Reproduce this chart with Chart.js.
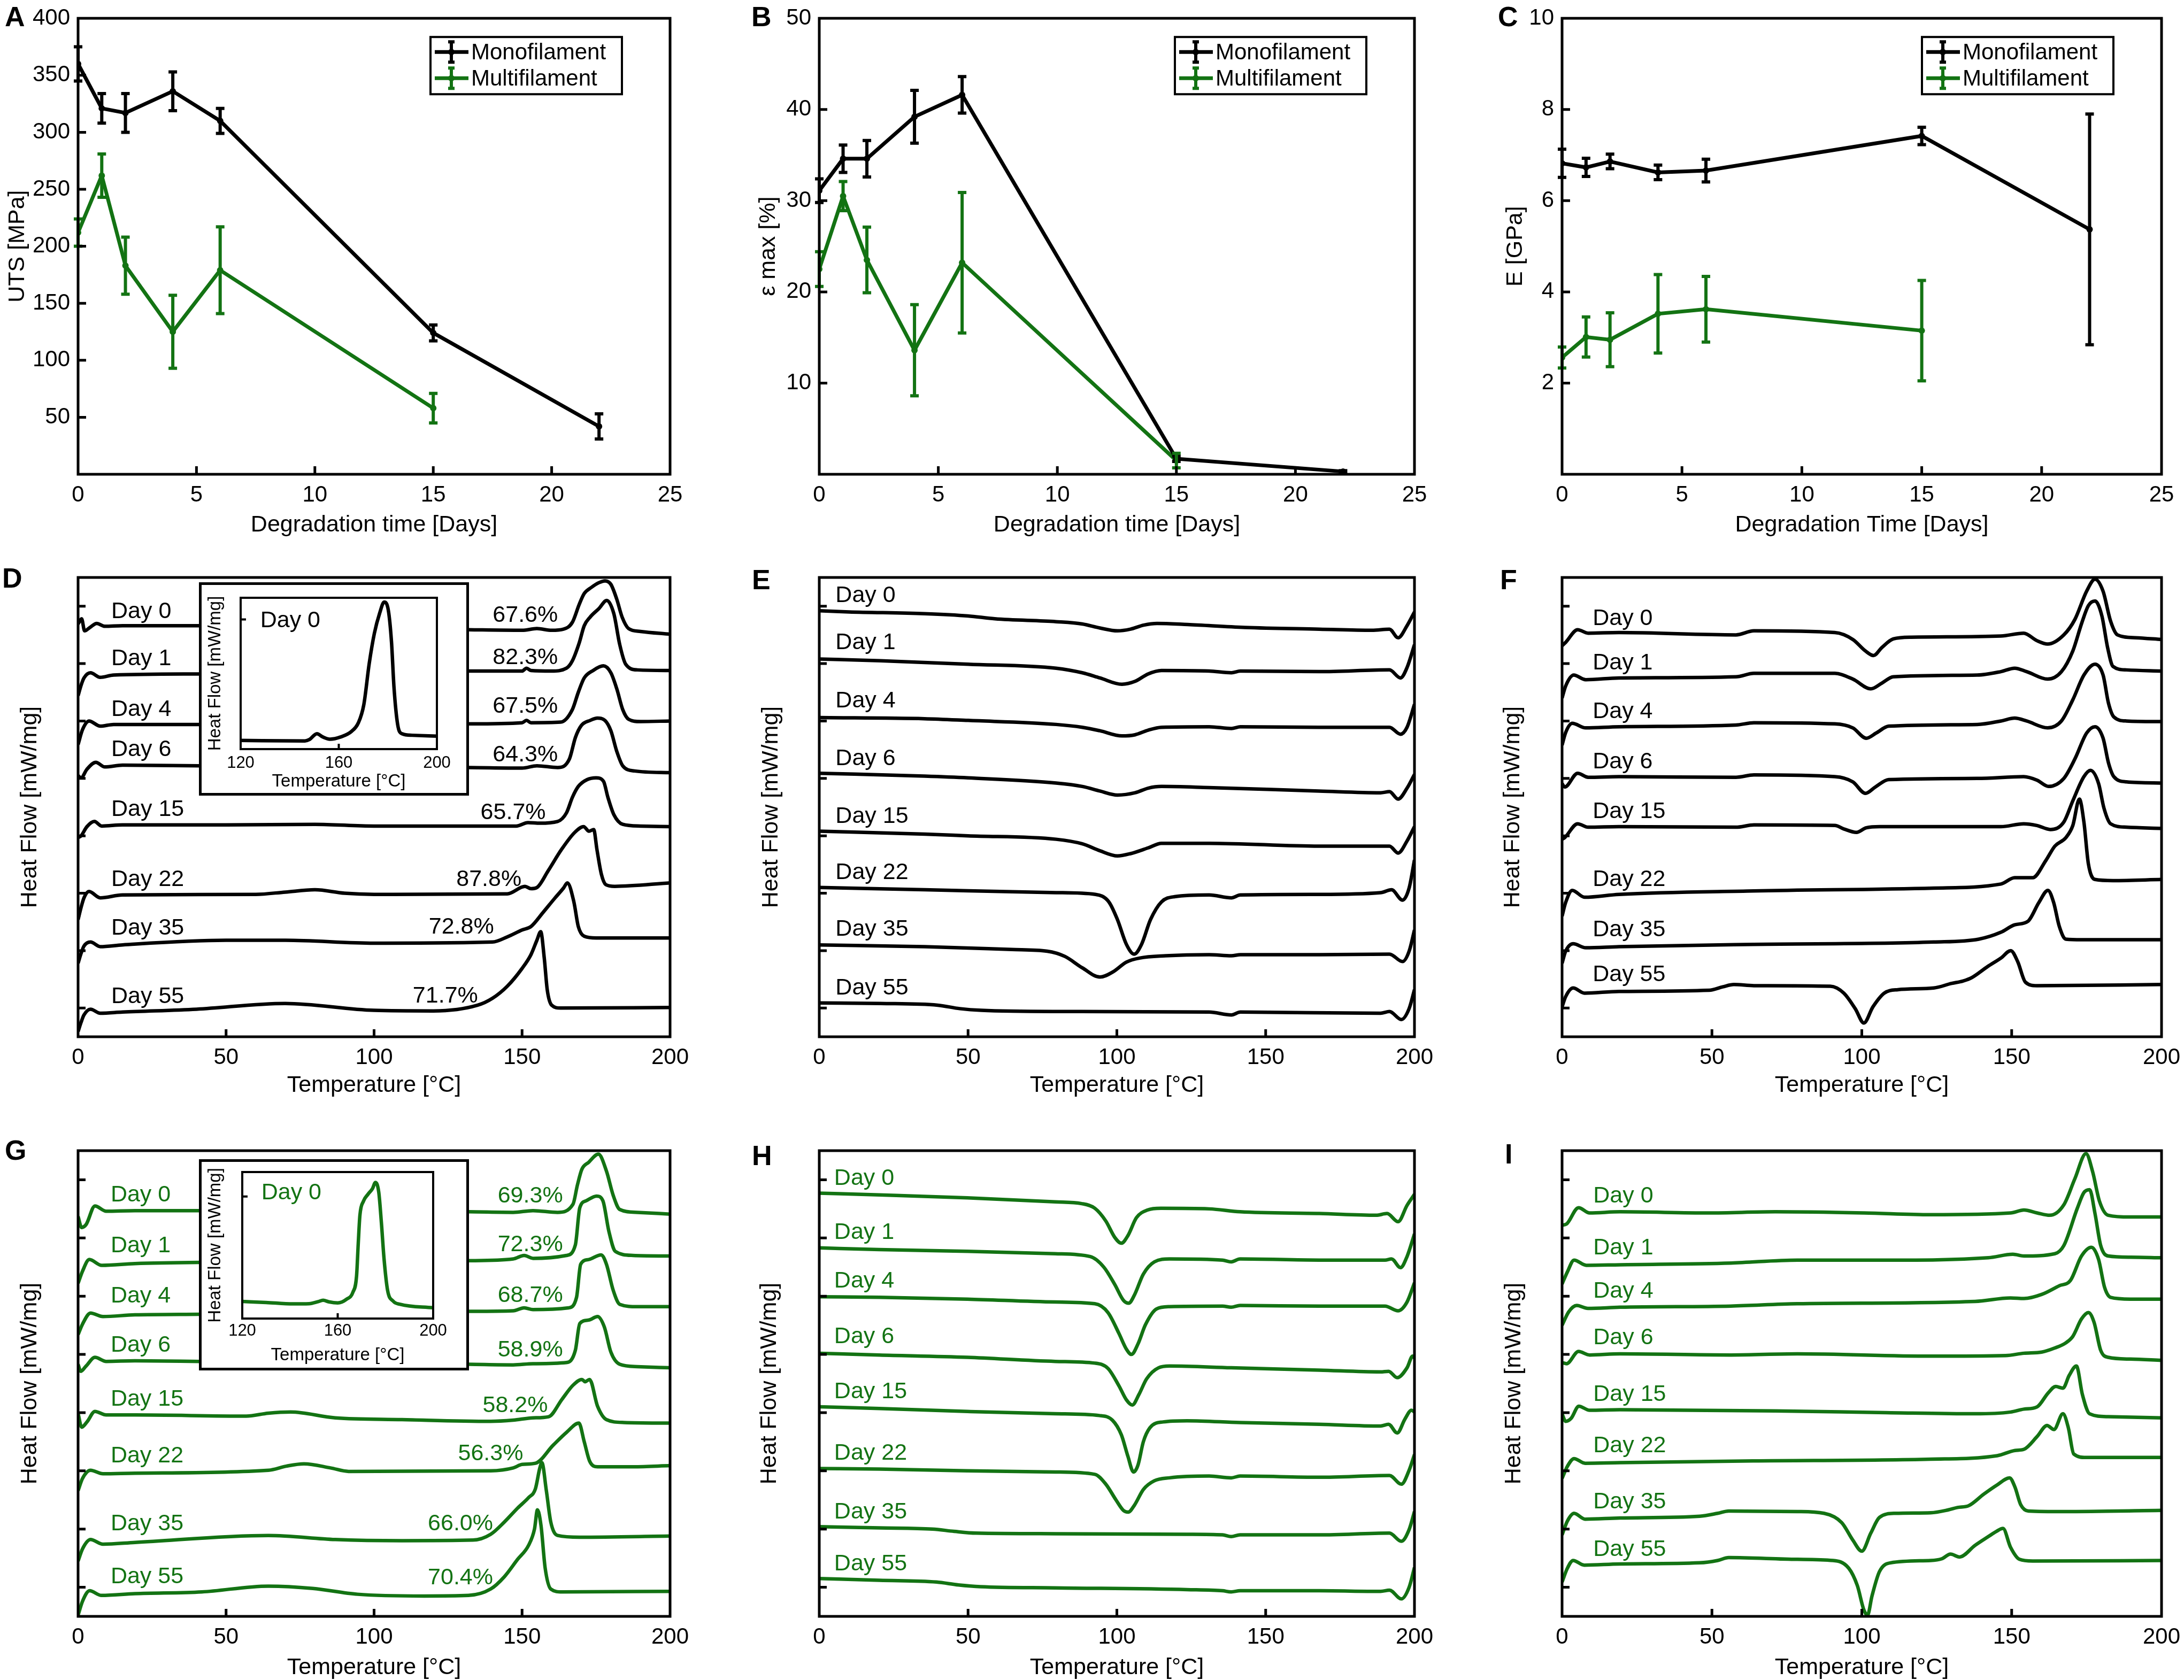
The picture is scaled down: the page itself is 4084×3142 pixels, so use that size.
<!DOCTYPE html>
<html>
<head>
<meta charset="utf-8">
<script src="https://cdn.jsdelivr.net/npm/chart.js@4.4.1/dist/chart.umd.min.js"></script>
<style>
html, body { margin: 0; padding: 0; background: #fff; }
body { width: 4084px; height: 3142px; position: relative; overflow: hidden; font-family: 'Liberation Sans', Arial, Helvetica, sans-serif; }
canvas { position: absolute; }
.tag { position: absolute; font-weight: bold; font-size: 52px; line-height: 1; color: #000; }
</style>
</head>
<body>
<div class="tag" style="left:9px;top:5px">A</div>
<div class="tag" style="left:1405px;top:5px">B</div>
<div class="tag" style="left:2801px;top:5px">C</div>
<div class="tag" style="left:4px;top:1055px">D</div>
<div class="tag" style="left:1406px;top:1058px">E</div>
<div class="tag" style="left:2805px;top:1058px">F</div>
<div class="tag" style="left:9px;top:2125px">G</div>
<div class="tag" style="left:1406px;top:2135px">H</div>
<div class="tag" style="left:2814px;top:2132px">I</div>
<script>
// ---- mechanical tests (A-C) ----
var days = [0, 1, 2, 4, 6, 15, 22];
var daysMulti = [0, 1, 2, 4, 6, 15];
var utsMono = [360, 321, 317, 336, 310, 124, 42];
var utsMonoErr = [15, 13, 17, 17, 11, 7, 11];
var utsMulti = [212, 262, 183, 125, 179, 58];
var utsMultiErr = [12, 19, 25, 32, 38, 13];
var strainMono = [31.1, 34.6, 34.6, 39.2, 41.6, 1.7, 0.3];
var strainMonoErr = [1.3, 1.5, 2.0, 2.9, 2.0, 0.3, 0.1];
var strainMulti = [22.5, 30.5, 23.5, 13.6, 23.2, 1.5];
var strainMultiErr = [1.9, 1.6, 3.6, 5.0, 7.7, 0.8];
var modMono = [6.82, 6.73, 6.86, 6.62, 6.66, 7.42, 5.37];
var modMonoErr = [0.31, 0.2, 0.16, 0.16, 0.25, 0.19, 2.53];
var modMulti = [2.56, 3.01, 2.95, 3.52, 3.62, 3.15];
var modMultiErr = [0.23, 0.44, 0.59, 0.86, 0.72, 1.1];

// ---- DSC curves, [temperature, heat flow (stacked, a.u.)] ----
var dayLabels = ['Day 0', 'Day 1', 'Day 4', 'Day 6', 'Day 15', 'Day 22', 'Day 35', 'Day 55'];
var crystD = ['67.6%', '82.3%', '67.5%', '64.3%', '65.7%', '87.8%', '72.8%', '71.7%'];
var crystG = ['69.3%', '72.3%', '68.7%', '58.9%', '58.2%', '56.3%', '66.0%', '70.4%'];
var dscTicks = [0.5, 1.5, 2.5, 3.5, 4.5, 5.5, 6.5, 7.5];

var D0 = [[0,7.19],[1.2,7.28],[2.2,7.07],[4,7.13],[6.3,7.20],[9,7.15],[15,7.16],[41,7.16],[132,7.09],[150,7.08],[155,7.11],[160,7.08],[164,7.10],[167,7.22],[169.3,7.53],[171,7.72],[173.5,7.83],[176,7.91],[178,7.94],[180,7.88],[182,7.62],[183.8,7.31],[186,7.11],[190,7.06],[200,7.01]];
var D1 = [[0,5.94],[1,6.12],[2,6.25],[4.2,6.34],[7.5,6.26],[12,6.30],[41,6.32],[132,6.37],[150,6.37],[151.5,6.42],[153,6.38],[160,6.37],[165,6.42],[167,6.55],[169.3,6.86],[171,7.16],[173,7.31],[176,7.46],[178.6,7.60],[181,7.37],[183,6.83],[185,6.49],[189,6.39],[200,6.38]];
var D4 = [[0,5.09],[1.5,5.35],[3.7,5.50],[7.5,5.41],[12,5.44],[41,5.44],[132,5.45],[150,5.47],[151.5,5.51],[153,5.47],[163,5.48],[167,5.70],[169,6.00],[171,6.25],[174,6.38],[177.5,6.46],[180,6.34],[182,6.06],[184,5.70],[186,5.53],[190,5.49],[200,5.50]];
var D6 = [[0,4.55],[1,4.51],[3,4.66],[6,4.78],[9,4.70],[15,4.73],[41,4.72],[132,4.69],[150,4.68],[155,4.72],[162,4.69],[166,4.84],[168,5.21],[170,5.42],[173,5.51],[175.5,5.55],[178,5.51],[180,5.33],[182,4.97],[184,4.72],[188,4.63],[200,4.60]];
var D15 = [[0,3.47],[1,3.50],[3,3.66],[5.5,3.75],[8,3.67],[15,3.69],[50,3.69],[80,3.70],[100,3.67],[120,3.67],[148,3.67],[152,3.73],[156,3.72],[162,3.75],[165,3.90],[167,4.17],[169,4.36],[172,4.48],[175,4.51],[177.5,4.45],[179,4.17],[181,3.87],[184,3.70],[190,3.67],[200,3.66]];
var D22 = [[0,2.04],[1,2.25],[2,2.42],[3.7,2.53],[7.5,2.42],[15,2.47],[60,2.48],[70,2.52],[80,2.56],[90,2.50],[100,2.48],[145,2.49],[151,2.62],[153,2.58],[155,2.60],[158.8,2.89],[163.3,3.26],[167.8,3.56],[170.8,3.66],[172.6,3.58],[174.2,3.61],[175.3,3.26],[176.8,2.83],[178.3,2.65],[181.3,2.62],[200,2.68]];
var D35 = [[0,1.28],[1,1.45],[2,1.58],[4.2,1.65],[7.5,1.57],[15,1.60],[50,1.68],[70,1.68],[100,1.63],[140,1.65],[145,1.74],[150,1.86],[153,1.92],[157,2.16],[161,2.41],[164,2.59],[165.3,2.68],[167.5,2.35],[169,1.92],[171,1.75],[175,1.72],[200,1.72]];
var D55 = [[0,0.09],[1,0.25],[2,0.38],[4.2,0.48],[7.5,0.41],[15,0.43],[40,0.48],[70,0.58],[100,0.46],[120,0.45],[135,0.55],[140,0.67],[145,0.88],[150,1.19],[153,1.43],[155,1.68],[156.3,1.83],[157.5,1.37],[158.5,0.82],[160,0.55],[163,0.50],[200,0.51]];

var E0 = [[0,7.42],[10,7.40],[35.4,7.37],[50,7.33],[59,7.28],[79.6,7.23],[88.4,7.19],[94.3,7.12],[100.2,7.07],[104.6,7.10],[109,7.17],[113.5,7.20],[123.8,7.18],[143,7.13],[168,7.10],[185.7,7.08],[191.6,7.10],[194.5,6.95],[197.5,7.16],[200,7.40]];
var E1 = [[0,6.58],[20.6,6.55],[50,6.49],[79.6,6.42],[88.4,6.34],[94.3,6.25],[101.7,6.14],[106.1,6.19],[110.5,6.32],[115,6.38],[131,6.37],[138.5,6.34],[141.5,6.37],[168,6.36],[191.6,6.39],[195.3,6.25],[197.5,6.43],[200,6.83]];
var E4 = [[0,5.56],[35.4,5.54],[50,5.51],[79.6,5.44],[88.4,5.39],[94.3,5.33],[101.7,5.24],[106.1,5.26],[110.5,5.34],[115,5.39],[131,5.40],[138.5,5.37],[141.5,5.40],[168,5.39],[191.6,5.39],[195.3,5.27],[197.5,5.39],[200,5.79]];
var E6 = [[0,4.59],[35.4,4.54],[50,4.51],[79.6,4.42],[88.4,4.36],[94.3,4.28],[100.2,4.21],[106.1,4.25],[110.5,4.33],[115,4.36],[131,4.34],[168,4.28],[188.6,4.25],[191.6,4.27],[194.5,4.14],[197.5,4.33],[200,4.57]];
var E15 = [[0,3.58],[35.4,3.53],[50,3.50],[79.6,3.44],[88.4,3.36],[94.3,3.24],[100.2,3.15],[104.6,3.19],[110.5,3.29],[115,3.37],[131,3.37],[168,3.32],[191.6,3.32],[194.5,3.20],[197.5,3.41],[200,3.66]];
var E22 = [[0,2.60],[35.4,2.56],[79.6,2.51],[92.8,2.48],[97.3,2.35],[100.2,2.04],[103.2,1.61],[105.8,1.44],[108.3,1.61],[111.3,2.04],[115,2.35],[119.4,2.44],[131,2.47],[138.5,2.42],[141.5,2.47],[168,2.48],[188.6,2.51],[192.3,2.56],[196,2.38],[198.2,2.59],[200,3.08]];
var E35 = [[0,1.60],[35.4,1.57],[64.8,1.52],[76.6,1.49],[82.5,1.40],[88.4,1.20],[94.3,1.04],[98.7,1.13],[103.2,1.30],[107.6,1.37],[116.4,1.41],[131,1.43],[138.5,1.41],[141.5,1.43],[168,1.43],[191.6,1.44],[196,1.31],[198.2,1.49],[200,1.86]];
var E55 = [[0,0.59],[20.6,0.58],[39.8,0.55],[47.2,0.49],[54.5,0.46],[79.6,0.44],[131,0.43],[138.5,0.38],[141.5,0.43],[188.6,0.41],[191.6,0.44],[195.6,0.30],[198.2,0.49],[200,0.82]];

var F0 = [[0,6.81],[1.2,6.87],[5.2,7.09],[8.7,7.03],[19,7.04],[58,7.00],[64,7.07],[91,7.04],[97,6.92],[101.2,6.72],[103.9,6.64],[106.7,6.78],[110.5,6.93],[116.5,6.96],[146.4,6.98],[154,7.03],[158.4,6.90],[162,6.84],[167.4,7.00],[171.1,7.27],[175,7.76],[177.8,7.97],[180.5,7.76],[183,7.24],[185.3,7.00],[191.3,6.95],[200,6.92]];
var F1 = [[0,5.90],[1.2,6.11],[3.9,6.30],[7.9,6.22],[19,6.25],[58,6.27],[64,6.33],[91,6.33],[97,6.23],[103,6.06],[106.7,6.16],[110.5,6.27],[138.5,6.30],[146.4,6.36],[151,6.42],[155,6.36],[162,6.23],[166.6,6.36],[170.4,6.72],[173.4,7.21],[175.6,7.51],[177.8,7.59],[180.1,7.33],[182,6.78],[183.8,6.45],[188.3,6.39],[200,6.37]];
var F4 = [[0,5.08],[1.2,5.30],[3.4,5.46],[7.9,5.38],[19,5.40],[58,5.43],[64,5.47],[91,5.45],[97,5.38],[101.5,5.20],[104.8,5.29],[109,5.41],[138.5,5.44],[146.4,5.50],[151,5.55],[155,5.50],[162,5.38],[166.6,5.50],[170.4,5.87],[174.1,6.30],[177.8,6.49],[180.5,6.30],[182.3,5.81],[184.1,5.57],[188.3,5.50],[200,5.49]];
var F6 = [[0,4.41],[0.9,4.35],[5.2,4.59],[8.7,4.52],[19,4.53],[58,4.52],[64,4.56],[91,4.53],[97,4.44],[101.2,4.24],[104.5,4.35],[109,4.48],[138.5,4.50],[154,4.53],[158.4,4.47],[162.3,4.36],[167.4,4.50],[171.1,4.84],[175,5.29],[177.8,5.40],[180.5,5.20],[182.3,4.77],[184.1,4.53],[188.3,4.44],[200,4.42]];
var F15 = [[0,3.44],[0.9,3.47],[5.2,3.71],[8.7,3.65],[19,3.66],[58,3.65],[64,3.69],[91,3.68],[94,3.62],[98.2,3.56],[101.5,3.64],[106,3.66],[146.4,3.66],[154,3.71],[158.4,3.68],[162.9,3.61],[167.4,3.74],[170.4,4.11],[174.1,4.53],[176.3,4.64],[179,4.41],[180.8,3.98],[183,3.71],[188.3,3.65],[200,3.63]];
var F22 = [[0,2.10],[1.2,2.34],[3.4,2.55],[7.5,2.43],[19,2.48],[64,2.54],[124,2.59],[146.4,2.66],[151,2.77],[157,2.77],[161.4,3.07],[164.4,3.32],[168.1,3.47],[170.4,3.68],[172.6,4.14],[174.1,3.74],[175.6,3.01],[177.8,2.74],[183.8,2.72],[200,2.74]];
var F35 = [[0,1.28],[1.2,1.49],[3.7,1.62],[7.9,1.55],[19,1.57],[64,1.61],[124,1.65],[139,1.70],[146.4,1.82],[151,1.95],[155.4,2.01],[159.1,2.34],[162.1,2.55],[164,2.34],[165.9,1.92],[168.1,1.70],[173.4,1.69],[200,1.69]];
var F55 = [[0,0.52],[1.2,0.70],[3.7,0.85],[7.5,0.76],[19,0.79],[49.1,0.81],[53.6,0.87],[57.3,0.91],[64,0.89],[89.5,0.88],[94,0.76],[97.8,0.49],[100.7,0.24],[103.7,0.52],[107.5,0.76],[112,0.82],[124,0.85],[130,0.93],[133.7,0.97],[136.7,1.03],[141.9,1.22],[146.4,1.37],[149.7,1.50],[152,1.31],[154.6,0.95],[158.4,0.89],[200,0.91]];

var G0 = [[0,6.87],[1.2,6.68],[2.7,6.73],[5.7,7.05],[9.5,6.96],[19.2,6.97],[41,6.97],[132,6.95],[147,6.94],[153.7,6.97],[162,6.94],[167.2,7.08],[168.7,7.41],[170.2,7.68],[172.5,7.80],[175.8,7.94],[178.5,7.65],[180.8,7.23],[183,6.99],[189,6.94],[200,6.91]];
var G1 = [[0,5.72],[1.5,5.93],[3.8,6.13],[8,6.03],[19.2,6.06],[41,6.08],[132,6.11],[147,6.14],[150.7,6.20],[153.7,6.15],[165,6.20],[168,6.38],[169.5,7.02],[171.7,7.14],[175.2,7.22],[177.3,7.14],[179.3,6.62],[181.5,6.27],[187.5,6.20],[200,6.19]];
var G4 = [[0,4.84],[1.5,5.02],[4.2,5.21],[8.4,5.15],[19.2,5.18],[41,5.19],[132,5.24],[147,5.25],[150.7,5.30],[153.7,5.27],[165.7,5.30],[168.4,5.48],[169.8,6.05],[172.5,6.13],[176.7,6.21],[178.5,6.05],[180.8,5.60],[183,5.36],[189,5.32],[200,5.32]];
var G6 = [[0,4.33],[0.9,4.21],[2.7,4.30],[5.7,4.45],[9.5,4.38],[19.2,4.39],[41,4.38],[132,4.33],[147,4.32],[153.7,4.34],[165,4.36],[168,4.57],[169.5,5.03],[172.5,5.09],[175.5,5.15],[177.8,4.97],[180,4.54],[183,4.33],[189,4.29],[200,4.27]];
var G15 = [[0,3.49],[1.2,3.25],[3,3.34],[5.7,3.52],[9.5,3.46],[19.2,3.46],[56.8,3.44],[64.3,3.49],[71.8,3.51],[86.9,3.41],[109.4,3.38],[139.4,3.35],[147,3.37],[153.7,3.41],[159,3.43],[163.5,3.73],[167.2,3.97],[170.2,4.07],[171.3,4.03],[172.8,4.07],[175.5,3.61],[178.5,3.38],[184.5,3.33],[200,3.32]];
var G22 = [[0,2.16],[1.5,2.37],[4.2,2.51],[8.4,2.45],[19.2,2.46],[64.3,2.51],[70.3,2.58],[76.3,2.62],[85.3,2.55],[91.4,2.49],[139.4,2.50],[147,2.55],[150,2.61],[154.5,2.63],[160.5,2.94],[165,3.16],[169.2,3.32],[171,3.00],[172.8,2.67],[175.5,2.57],[187.5,2.57],[200,2.59]];
var G35 = [[0,0.95],[1.5,1.16],[4.2,1.32],[8.4,1.24],[19.2,1.27],[64.3,1.39],[86.9,1.32],[109.4,1.30],[133.4,1.31],[139.4,1.41],[144,1.62],[148.5,1.86],[152.2,2.04],[154.5,2.19],[156,2.55],[156.7,2.64],[158.2,2.16],[159.7,1.62],[162,1.39],[169.5,1.36],[200,1.38]];
var G55 = [[0,0.02],[1.5,0.26],[3.9,0.44],[7.9,0.36],[19.2,0.39],[41.8,0.42],[64.3,0.52],[79.3,0.48],[94.4,0.38],[116.9,0.35],[131.9,0.36],[139.4,0.47],[144,0.68],[148.5,0.98],[152.2,1.22],[154.2,1.50],[155.2,1.83],[156.4,1.56],[157.8,0.83],[159.7,0.47],[163.5,0.42],[200,0.43]];

var H0 = [[0,7.27],[20.2,7.24],[49.8,7.19],[79.3,7.12],[88.2,7.09],[92.6,7.01],[96.3,6.79],[99.3,6.51],[101.5,6.41],[103.7,6.54],[106.6,6.85],[110.3,6.98],[114.8,7.01],[131,7.00],[141.4,6.95],[168,6.92],[187.1,6.89],[190.8,6.92],[194.5,6.78],[197.5,7.06],[200,7.25]];
var H1 = [[0,6.33],[20.2,6.30],[49.8,6.27],[79.3,6.23],[91.1,6.18],[95.6,6.00],[99.3,5.70],[102.2,5.43],[104,5.38],[105.9,5.52],[108.9,5.88],[112.6,6.09],[117.7,6.14],[135.5,6.12],[138.4,6.09],[141.4,6.14],[168,6.12],[190.1,6.12],[192.3,6.14],[195.3,5.99],[197.5,6.18],[200,6.57]];
var H4 = [[0,5.49],[20.2,5.48],[49.8,5.45],[79.3,5.40],[92.6,5.37],[97,5.22],[100.7,4.86],[103.2,4.59],[104.9,4.50],[107.1,4.68],[109.6,5.01],[113.3,5.28],[117.7,5.32],[135.5,5.33],[138.4,5.31],[141.4,5.34],[168,5.33],[190.1,5.33],[194.5,5.25],[197.5,5.40],[200,5.73]];
var H6 = [[0,4.52],[20.2,4.49],[49.8,4.45],[79.3,4.38],[92.6,4.35],[97,4.26],[100.7,3.96],[103.2,3.72],[105.2,3.63],[107.4,3.81],[110,4.08],[114,4.27],[117.7,4.30],[138.4,4.27],[168,4.23],[188.6,4.20],[191.3,4.21],[194.2,4.10],[197.5,4.27],[199.4,4.47],[200,4.44]];
var H15 = [[0,3.60],[20.2,3.57],[49.8,3.52],[79.3,3.48],[94.1,3.45],[98.5,3.37],[101.5,3.12],[103.7,2.75],[105.6,2.48],[107.1,2.60],[108.9,3.00],[111.1,3.24],[115.5,3.34],[123.6,3.36],[141.4,3.33],[168,3.30],[188.6,3.27],[191.3,3.30],[194.2,3.15],[196.8,3.39],[199,3.54],[200,3.51]];
var H22 = [[0,2.54],[20.2,2.53],[49.8,2.50],[79.3,2.48],[92.6,2.44],[96.3,2.27],[99.7,2.00],[102.2,1.82],[103.8,1.79],[105.9,1.91],[108.9,2.18],[112.6,2.33],[117.7,2.38],[131,2.41],[138.4,2.38],[141.4,2.41],[168,2.39],[191.6,2.42],[195.6,2.27],[198.2,2.51],[200,2.78]];
var H35 = [[0,1.54],[20.2,1.52],[38,1.50],[45.3,1.46],[52.7,1.43],[79.3,1.42],[123.6,1.41],[135.5,1.40],[138.4,1.37],[141.4,1.40],[168,1.40],[191.6,1.43],[195.6,1.29],[198.2,1.49],[200,1.80]];
var H55 = [[0,0.65],[20.2,0.62],[39.4,0.59],[46.8,0.54],[54.2,0.51],[79.3,0.49],[123.6,0.46],[135.5,0.44],[138.4,0.42],[141.4,0.44],[168,0.44],[188.6,0.43],[191.6,0.45],[195.6,0.30],[198.2,0.50],[200,0.84]];

var I0 = [[0,6.72],[1.5,6.74],[5.5,7.02],[9.2,6.93],[19.3,6.95],[48.9,6.93],[71.1,6.95],[100.7,6.93],[123,6.90],[149.6,6.93],[154.1,6.98],[158.5,6.93],[162.7,6.89],[167.4,7.07],[171.1,7.52],[174.8,7.95],[177,7.64],[179.3,7.13],[182.2,6.89],[189.6,6.86],[200,6.86]];
var I1 = [[0,5.71],[1.8,5.92],[4,6.12],[8.1,6.03],[19.3,6.04],[56.3,6.07],[78.5,6.12],[108.1,6.12],[142.2,6.16],[150.4,6.22],[154.1,6.19],[164.4,6.23],[167.4,6.37],[171.9,7.01],[174.1,7.28],[176,7.33],[177.8,6.92],[179.7,6.37],[182.2,6.19],[189.6,6.17],[200,6.16]];
var I4 = [[0,5.00],[2.2,5.23],[4.9,5.34],[8.6,5.29],[19.3,5.31],[56.3,5.33],[78.5,5.37],[137.8,5.41],[149.6,5.47],[154.1,5.46],[160,5.53],[165.9,5.68],[169.6,5.77],[173.3,6.19],[176.6,6.34],[179,6.13],[181,5.65],[183,5.48],[189.6,5.45],[200,5.45]];
var I6 = [[0,4.36],[1.5,4.34],[5.5,4.55],[9.2,4.49],[19.3,4.51],[56.3,4.49],[78.5,4.51],[123,4.47],[148,4.48],[154.1,4.52],[160,4.54],[164.4,4.61],[168.1,4.70],[170.4,4.81],[173.3,5.11],[175.6,5.22],[177.5,5.05],[179.7,4.57],[182.2,4.45],[189.6,4.42],[200,4.40]];
var I15 = [[0,3.48],[1.2,3.35],[3,3.40],[5.6,3.61],[9.2,3.54],[19.3,3.55],[71.1,3.53],[108.1,3.50],[137.8,3.48],[149.6,3.51],[154.1,3.56],[158.5,3.60],[162.2,3.84],[164.7,3.95],[167.1,3.92],[169.2,4.14],[171.6,4.30],[173.6,3.81],[176,3.48],[182.2,3.43],[200,3.41]];
var I22 = [[0,2.37],[1.8,2.58],[4,2.71],[7.7,2.63],[19.3,2.64],[63.7,2.67],[123,2.70],[145.2,2.76],[151.1,2.85],[154.1,2.87],[158.5,3.09],[161.8,3.28],[164.1,3.21],[167.1,3.48],[168.9,3.24],[170.7,2.79],[174.8,2.73],[200,2.73]];
var I35 = [[0,1.40],[1.8,1.64],[4,1.77],[7.7,1.67],[19.3,1.69],[45.9,1.72],[51.9,1.77],[55.6,1.81],[78.5,1.80],[87.4,1.77],[93.3,1.61],[97,1.31],[100,1.12],[103,1.43],[105.9,1.70],[111.1,1.77],[123,1.78],[128.9,1.83],[131.9,1.87],[135.6,1.90],[140.7,2.10],[145.2,2.26],[149.3,2.38],[151.1,2.22],[153,1.92],[155.6,1.81],[167.4,1.80],[200,1.82]];
var I55 = [[0,0.59],[1.8,0.83],[3.7,0.96],[7.4,0.88],[19.3,0.90],[45.9,0.92],[51.9,0.96],[55.6,1.01],[78.5,0.98],[90.4,0.96],[95.6,0.83],[98.5,0.53],[100.7,0.11],[101.9,0.02],[103.4,0.35],[105.9,0.77],[109.6,0.92],[123,0.96],[126.7,0.99],[129.6,1.07],[132.6,1.02],[137.8,1.22],[142.2,1.37],[144.9,1.46],[147.1,1.51],[149.6,1.19],[152.6,0.98],[157,0.95],[200,0.96]];

// insets (Day 0 melting region)
var insetD = [[120,0.40],[146.2,0.38],[148,0.44],[151.1,0.71],[153.5,0.56],[156.4,0.46],[160.7,0.56],[165.1,0.81],[168,1.22],[170.2,2.05],[172.4,3.95],[174.5,5.35],[176.7,6.30],[178.5,6.80],[180.2,6.42],[181.5,4.94],[182.5,2.87],[184,1.14],[185.8,0.71],[189.8,0.64],[200,0.60]];
var insetG = [[120,0.84],[130,0.79],[141.3,0.72],[148,0.73],[151.8,0.83],[153.9,0.90],[156.3,0.82],[160,0.77],[163.7,0.95],[166.4,1.30],[167.9,2.09],[168.6,3.67],[169.3,5.07],[170.8,5.77],[172.7,6.11],[174.6,6.39],[175.8,6.69],[177.2,6.21],[178.3,4.72],[179.4,2.96],[180.9,1.39],[183.2,0.86],[186.2,0.70],[200,0.53]];

var BLACK = '#000000';
var GREEN = '#137313';
var FONT = "'Liberation Sans', Arial, Helvetica, sans-serif";
Chart.defaults.font.family = FONT;
Chart.defaults.color = '#000';

function addCanvas(left, top, w, h, bg) {
  var c = document.createElement('canvas');
  c.width = w; c.height = h;
  c.style.left = left + 'px'; c.style.top = top + 'px';
  c.style.width = w + 'px'; c.style.height = h + 'px';
  if (bg) c.style.background = bg;
  document.body.appendChild(c);
  return c.getContext('2d');
}

// box round the plot area + inward ticks
function frame(len, lw) {
  return {
    id: 'frame',
    afterDraw: function (chart) {
      var ctx = chart.ctx, a = chart.chartArea;
      ctx.save();
      ctx.strokeStyle = '#000';
      ctx.lineWidth = lw;
      ctx.beginPath();
      [chart.scales.x, chart.scales.y].forEach(function (s) {
        s.ticks.forEach(function (t) {
          var p = s.getPixelForValue(t.value);
          if (s.isHorizontal()) {
            if (p > a.left + 4 && p < a.right - 4) { ctx.moveTo(p, a.bottom); ctx.lineTo(p, a.bottom - len); }
          } else if (p > a.top + 4 && p < a.bottom - 4) {
            ctx.moveTo(a.left, p); ctx.lineTo(a.left + len, p);
          }
        });
      });
      ctx.stroke();
      ctx.strokeRect(a.left, a.top, a.right - a.left, a.bottom - a.top);
      ctx.restore();
    }
  };
}

var errorBars = {
  id: 'errorBars',
  afterDatasetsDraw: function (chart) {
    var ctx = chart.ctx, ys = chart.scales.y;
    chart.data.datasets.forEach(function (ds, i) {
      var meta = chart.getDatasetMeta(i);
      ctx.save();
      ctx.strokeStyle = ds.borderColor;
      ctx.lineWidth = 6;
      meta.data.forEach(function (pt, j) {
        var v = ds.data[j].y, e = ds.errors[j];
        var y1 = ys.getPixelForValue(v + e), y2 = ys.getPixelForValue(v - e);
        ctx.beginPath();
        ctx.moveTo(pt.x, y1); ctx.lineTo(pt.x, y2);
        ctx.moveTo(pt.x - 8, y1); ctx.lineTo(pt.x + 8, y1);
        ctx.moveTo(pt.x - 8, y2); ctx.lineTo(pt.x + 8, y2);
        ctx.stroke();
      });
      ctx.restore();
    });
  }
};

var legendBox = {
  id: 'legendBox',
  afterDraw: function (chart) {
    var ctx = chart.ctx, a = chart.chartArea;
    var w = 358, h = 107, x0 = a.right - 90 - w, y0 = a.top + 35;
    ctx.save();
    ctx.fillStyle = '#fff'; ctx.fillRect(x0, y0, w, h);
    ctx.strokeStyle = '#000'; ctx.lineWidth = 4; ctx.strokeRect(x0, y0, w, h);
    chart.data.datasets.forEach(function (ds, k) {
      var cy = y0 + 28 + k * 49, cx = x0 + 39;
      ctx.strokeStyle = ds.borderColor; ctx.fillStyle = ds.borderColor;
      ctx.lineWidth = 7;
      ctx.beginPath(); ctx.moveTo(x0 + 8, cy); ctx.lineTo(x0 + 71, cy); ctx.stroke();
      ctx.lineWidth = 6;
      ctx.beginPath();
      ctx.moveTo(cx, cy - 19); ctx.lineTo(cx, cy + 19);
      ctx.moveTo(cx - 6, cy - 19); ctx.lineTo(cx + 6, cy - 19);
      ctx.moveTo(cx - 6, cy + 19); ctx.lineTo(cx + 6, cy + 19);
      ctx.stroke();
      ctx.beginPath(); ctx.arc(cx, cy, 6, 0, 2 * Math.PI); ctx.fill();
      ctx.fillStyle = '#000';
      ctx.font = '42px ' + FONT;
      ctx.textAlign = 'left'; ctx.textBaseline = 'middle';
      ctx.fillText(ds.label, x0 + 76, cy + 2);
    });
    ctx.restore();
  }
};

function notes(list, color, size) {
  return {
    id: 'notes',
    afterDatasetsDraw: function (chart) {
      var ctx = chart.ctx, xs = chart.scales.x, ys = chart.scales.y;
      ctx.save();
      ctx.fillStyle = color;
      ctx.font = size + 'px ' + FONT;
      ctx.textBaseline = 'middle';
      list.forEach(function (n) {
        ctx.textAlign = n.align || 'left';
        ctx.fillText(n.text, xs.getPixelForValue(n.x), ys.getPixelForValue(n.y));
      });
      ctx.restore();
    }
  };
}

var AW = 150, TP = 40, RP = 60, AH = 140;

function baseOptions() {
  return {
    animation: false, responsive: false, devicePixelRatio: 1, events: [],
    layout: { padding: { top: TP, right: RP, left: 0, bottom: 0 } },
    plugins: { legend: { display: false }, tooltip: { enabled: false } }
  };
}

function xAxis(min, max, step, title, titleOff) {
  return {
    type: 'linear', min: min, max: max,
    ticks: { stepSize: step, font: { size: 42 }, padding: 14, maxRotation: 0, autoSkip: false, color: '#000' },
    grid: { display: false, drawTicks: false }, border: { display: false },
    title: { display: true, text: title, font: { size: 43 }, color: '#000', padding: { top: 0, bottom: AH - titleOff - 25.8 } },
    afterFit: function (s) { s.height = AH; }
  };
}

function yAxis(min, max, title, titleOff, extra) {
  var y = {
    type: 'linear', min: min, max: max,
    grid: { display: false, drawTicks: false }, border: { display: false },
    title: { display: true, text: title, font: { size: 43 }, color: '#000', padding: { top: AW - titleOff - 25.8, bottom: 0 } },
    afterFit: function (s) { s.width = AW; }
  };
  for (var k in extra) y[k] = extra[k];
  return y;
}

function pts(xs, ys) { return xs.map(function (x, i) { return { x: x, y: ys[i] }; }); }

function mechChart(box, mono, monoErr, multi, multiErr, yMax, yStep, ytitle, ytitleOff, xtitle) {
  var ctx = addCanvas(box.l - AW, box.t - TP, AW + box.r - box.l + RP, TP + box.b - box.t + AH);
  var opt = baseOptions();
  opt.scales = {
    x: xAxis(0, 25, 5, xtitle, 95),
    y: yAxis(0, yMax, ytitle, ytitleOff, {
      ticks: { stepSize: yStep, font: { size: 42 }, padding: 15, color: '#000',
        callback: function (v) { return v === 0 ? '' : v; } }
    })
  };
  return new Chart(ctx, {
    type: 'line',
    data: {
      datasets: [
        { label: 'Monofilament', data: pts(days, mono), errors: monoErr, borderColor: BLACK, backgroundColor: BLACK,
          borderWidth: 7, pointRadius: 6, pointBackgroundColor: BLACK, pointBorderWidth: 0, tension: 0 },
        { label: 'Multifilament', data: pts(daysMulti, multi), errors: multiErr, borderColor: GREEN, backgroundColor: GREEN,
          borderWidth: 7, pointRadius: 6, pointBackgroundColor: GREEN, pointBorderWidth: 0, tension: 0 }
      ]
    },
    options: opt,
    plugins: [errorBars, frame(15, 5), legendBox]
  });
}

function dscChart(box, curves, color, noteList, ytitleOff, xtitleOff) {
  var ctx = addCanvas(box.l - AW, box.t - TP, AW + box.r - box.l + RP, TP + box.b - box.t + AH);
  var opt = baseOptions();
  opt.scales = {
    x: xAxis(0, 200, 50, 'Temperature [°C]', xtitleOff),
    y: yAxis(0, 8, 'Heat Flow [mW/mg]', ytitleOff, {
      ticks: { display: false },
      afterBuildTicks: function (s) { s.ticks = dscTicks.map(function (v) { return { value: v }; }); }
    })
  };
  return new Chart(ctx, {
    type: 'line',
    data: {
      datasets: curves.map(function (c) {
        return { data: c.map(function (p) { return { x: p[0], y: p[1] }; }), borderColor: color,
          borderWidth: 6.5, pointRadius: 0, cubicInterpolationMode: 'monotone', fill: false };
      })
    },
    options: opt,
    plugins: [frame(14, 5), notes(noteList, color, 43)]
  });
}

var outerFrame = {
  id: 'outerFrame',
  afterDraw: function (chart) {
    var ctx = chart.ctx;
    ctx.save(); ctx.strokeStyle = '#000'; ctx.lineWidth = 5;
    ctx.strokeRect(2.5, 2.5, chart.width - 5, chart.height - 5);
    ctx.restore();
  }
};

function insetChart(outer, inner, curve, color, yMax, lab, tickPad, titlePad) {
  var w = outer.r - outer.l, h = outer.b - outer.t;
  var aw = inner.l - outer.l, ah = outer.b - inner.b;
  var ctx = addCanvas(outer.l, outer.t, w, h, '#fff');
  return new Chart(ctx, {
    type: 'line',
    data: { datasets: [{ data: curve.map(function (p) { return { x: p[0], y: p[1] }; }), borderColor: color,
      borderWidth: 6.5, pointRadius: 0, cubicInterpolationMode: 'monotone', fill: false }] },
    options: {
      animation: false, responsive: false, devicePixelRatio: 1, events: [],
      layout: { padding: { top: inner.t - outer.t, right: outer.r - inner.r, left: 0, bottom: 0 } },
      plugins: { legend: { display: false }, tooltip: { enabled: false } },
      scales: {
        x: { type: 'linear', min: 120, max: 200,
          ticks: { stepSize: 40, font: { size: 31 }, padding: tickPad, maxRotation: 0, color: '#000' },
          grid: { display: false, drawTicks: false }, border: { display: false },
          title: { display: true, text: 'Temperature [°C]', font: { size: 33 }, color: '#000', padding: { top: 0, bottom: titlePad } },
          afterFit: function (s) { s.height = ah; } },
        y: { type: 'linear', min: 0, max: yMax,
          ticks: { display: false },
          afterBuildTicks: function (s) { s.ticks = [{ value: 6 }]; },
          grid: { display: false, drawTicks: false }, border: { display: false },
          title: { display: true, text: 'Heat Flow [mW/mg]', font: { size: 33 }, color: '#000', padding: { top: 11, bottom: 0 } },
          afterFit: function (s) { s.width = aw; } }
      }
    },
    plugins: [frame(10, 4), outerFrame, notes([lab], color, 43)]
  });
}

// ---- layout of the 3x3 grid (plot areas, page px) ----
var col = [{ l: 146, r: 1253 }, { l: 1532, r: 2645 }, { l: 2921, r: 4042 }];
var row = [{ t: 34, b: 887 }, { t: 1080, b: 1939 }, { t: 2152, b: 3023 }];
function cell(r, c) { return { l: col[c].l, r: col[c].r, t: row[r].t, b: row[r].b }; }

mechChart(cell(0, 0), utsMono, utsMonoErr, utsMulti, utsMultiErr, 400, 50, 'UTS [MPa]', 113, 'Degradation time [Days]');
mechChart(cell(0, 1), strainMono, strainMonoErr, strainMulti, strainMultiErr, 50, 10, 'ε max [%]', 95, 'Degradation time [Days]');
mechChart(cell(0, 2), modMono, modMonoErr, modMulti, modMultiErr, 10, 2, 'E [GPa]', 87, 'Degradation Time [Days]');

function dayNotes(x, ys) { return dayLabels.map(function (t, i) { return { x: x, y: ys[i], text: t }; }); }
function pctNotes(texts, pos) { return texts.map(function (t, i) { return { x: pos[i][0], y: pos[i][1], text: t, align: 'right' }; }); }

var notesD = dayNotes(11.2, [7.40, 6.58, 5.70, 5.00, 3.96, 2.74, 1.89, 0.70]).concat(
  pctNotes(crystD, [[162.1, 7.34], [162.1, 6.60], [162.1, 5.75], [162.1, 4.91], [158, 3.90], [149.8, 2.74], [140.5, 1.91], [135.1, 0.71]]));
var notesE = dayNotes(5.45, [7.68, 6.86, 5.85, 4.84, 3.84, 2.86, 1.87, 0.85]);
var notesF = dayNotes(10.2, [7.28, 6.51, 5.66, 4.79, 3.92, 2.74, 1.86, 1.08]);
var notesG = dayNotes(11, [7.24, 6.36, 5.50, 4.66, 3.73, 2.75, 1.59, 0.68]).concat(
  pctNotes(crystG, [[163.8, 7.22], [163.8, 6.38], [163.8, 5.51], [163.8, 4.57], [158.7, 3.62], [150.4, 2.79], [140.2, 1.59], [140.2, 0.66]]));
var notesH = dayNotes(5.0, [7.52, 6.59, 5.76, 4.80, 3.86, 2.80, 1.79, 0.90]);
var notesI = dayNotes(10.4, [7.22, 6.33, 5.58, 4.78, 3.81, 2.93, 1.96, 1.15]);

dscChart(cell(1, 0), [D0, D1, D4, D6, D15, D22, D35, D55], BLACK, notesD, 90, 91);
insetChart({ l: 372, r: 877, t: 1089, b: 1488 }, { l: 450, r: 817, t: 1118, b: 1401 }, insetD, BLACK, 7,
  { x: 128, y: 5.93, text: 'Day 0' }, 8, 6);
dscChart(cell(1, 1), [E0, E1, E4, E6, E15, E22, E35, E55], BLACK, notesE, 90, 91);
dscChart(cell(1, 2), [F0, F1, F4, F6, F15, F22, F35, F55], BLACK, notesF, 92, 91);
dscChart(cell(2, 0), [G0, G1, G4, G6, G15, G22, G35, G55], GREEN, notesG, 90, 96);
insetChart({ l: 372, r: 877, t: 2168, b: 2563 }, { l: 453, r: 810, t: 2192, b: 2466 }, insetG, GREEN, 7.2,
  { x: 128, y: 6.17, text: 'Day 0' }, 5, 8);
dscChart(cell(2, 1), [H0, H1, H4, H6, H15, H22, H35, H55], GREEN, notesH, 93, 96);
dscChart(cell(2, 2), [I0, I1, I4, I6, I15, I22, I35, I55], GREEN, notesI, 90, 96);
</script>
</body>
</html>
